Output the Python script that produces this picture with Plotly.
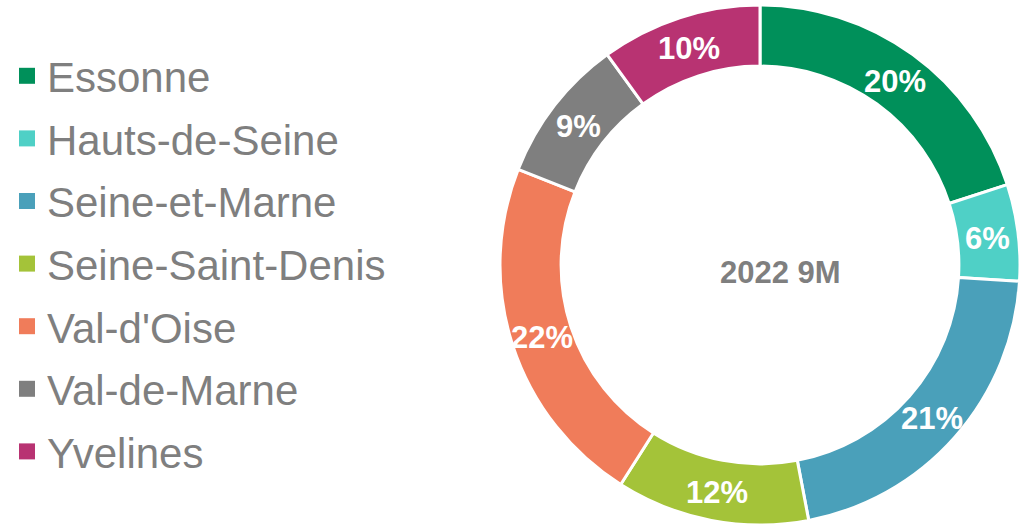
import math
import plotly.graph_objects as go

categories = ["Essonne", "Hauts-de-Seine", "Seine-et-Marne", "Seine-Saint-Denis",
              "Val-d'Oise", "Val-de-Marne", "Yvelines"]
shares = [20, 6, 21, 12, 22, 9, 10]
colors = ["#00905A", "#4FD0C6", "#4AA0BA", "#A4C339", "#F07C5A", "#7F7F7F", "#B83372"]
center_label = "2022 9M"

W, H = 1024, 525
cx, cy, r = 760, 265, 260
hole = 0.765
FONT = "Liberation Sans, Arial"

fig = go.Figure()
fig.add_trace(go.Pie(
    labels=categories, values=shares, sort=False, direction="clockwise", rotation=0,
    hole=hole,
    marker=dict(colors=colors, line=dict(color="white", width=3)),
    textinfo="none", hoverinfo="label+percent",
    showlegend=False,
    domain=dict(x=[(cx - r) / W, (cx + r) / W], y=[max(0, (H - cy - r) / H), min(1, (H - cy + r) / H)]),
))

# percentage labels placed at the middle of each ring segment (derived from the data)
total = sum(shares)
rm = r * (1 + hole) / 2
cum = 0
for v in shares:
    ang = 2 * math.pi * (cum + v / 2) / total
    cum += v
    px = cx + rm * math.sin(ang)
    py = cy + 2 - rm * math.cos(ang)
    fig.add_annotation(
        text=f"{round(100 * v / total)}%", x=px / W, y=(H - py) / H,
        xref="paper", yref="paper", xanchor="center", yanchor="middle", showarrow=False,
        font=dict(family=FONT, size=31, color="white", weight="bold"),
    )

for name, col in zip(categories, colors):
    fig.add_trace(go.Scatter(
        x=[None], y=[None], mode="markers", name=name, legendgroup=name,
        marker=dict(symbol="square", size=18, color=col),
    ))

fig.add_annotation(
    text=center_label, x=780 / W, y=(H - 272) / H, xref="paper", yref="paper",
    xanchor="center", yanchor="middle", showarrow=False,
    font=dict(family=FONT, size=31, color="#7F7F7F", weight="bold"),
)

fig.update_layout(
    width=W, height=H, margin=dict(l=0, r=0, t=0, b=0),
    paper_bgcolor="white", plot_bgcolor="white",
    xaxis=dict(visible=False), yaxis=dict(visible=False),
    legend=dict(x=7 / W, xanchor="left", y=(H - 264) / H, yanchor="middle",
                font=dict(family=FONT, size=42, color="#7F7F7F"),
                itemwidth=30, bgcolor="rgba(0,0,0,0)", tracegroupgap=5),
)

fig.write_html("out.html", config={"displayModeBar": False},
               post_script="document.body.style.margin='0';document.body.style.overflow='hidden';")
